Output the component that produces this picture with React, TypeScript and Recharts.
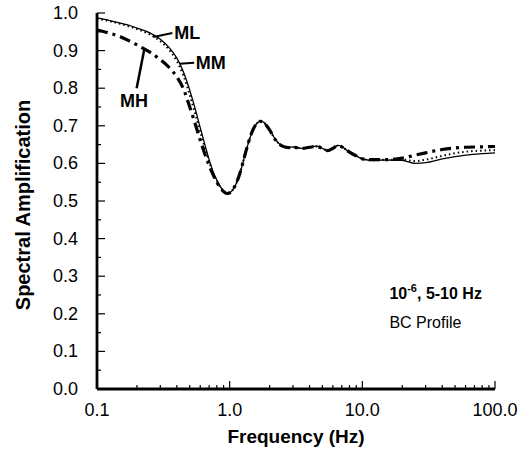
import React from 'react';
import { LineChart, Line, XAxis, YAxis, ReferenceLine, ReferenceDot, Label } from 'recharts';

// ---- data ----
const freq = [0.1, 0.125, 0.15, 0.175, 0.2, 0.25, 0.3, 0.35, 0.4, 0.45, 0.5, 0.55, 0.6, 0.65, 0.7, 0.75, 0.8, 0.85, 0.9, 0.95, 1.0, 1.1, 1.2, 1.3, 1.4, 1.5, 1.6, 1.7, 1.8, 1.9, 2.0, 2.2, 2.5, 2.8, 3.0, 3.5, 4.0, 4.5, 5.0, 5.5, 6.0, 6.5, 7.0, 7.5, 8, 9, 10, 12, 15, 20, 25, 30, 40, 50, 60, 80, 100];
const mlValues = [0.987, 0.980, 0.973, 0.967, 0.960, 0.947, 0.930, 0.908, 0.880, 0.842, 0.795, 0.745, 0.695, 0.650, 0.610, 0.578, 0.556, 0.538, 0.526, 0.520, 0.522, 0.540, 0.575, 0.620, 0.660, 0.690, 0.706, 0.712, 0.710, 0.700, 0.690, 0.665, 0.646, 0.642, 0.644, 0.640, 0.643, 0.646, 0.640, 0.634, 0.640, 0.648, 0.645, 0.637, 0.630, 0.620, 0.612, 0.608, 0.609, 0.608, 0.600, 0.602, 0.612, 0.618, 0.622, 0.626, 0.628];
const mmValues = [0.985, 0.978, 0.971, 0.964, 0.957, 0.943, 0.925, 0.902, 0.872, 0.832, 0.782, 0.732, 0.685, 0.642, 0.605, 0.574, 0.553, 0.537, 0.526, 0.520, 0.522, 0.541, 0.576, 0.621, 0.661, 0.690, 0.706, 0.712, 0.710, 0.700, 0.689, 0.664, 0.646, 0.642, 0.643, 0.640, 0.643, 0.645, 0.640, 0.634, 0.640, 0.647, 0.644, 0.637, 0.630, 0.620, 0.612, 0.608, 0.610, 0.610, 0.606, 0.610, 0.620, 0.627, 0.631, 0.634, 0.635];
const mhValues = [0.955, 0.946, 0.937, 0.926, 0.915, 0.896, 0.876, 0.855, 0.830, 0.797, 0.750, 0.705, 0.662, 0.625, 0.595, 0.570, 0.550, 0.535, 0.525, 0.520, 0.522, 0.541, 0.576, 0.621, 0.661, 0.690, 0.706, 0.712, 0.710, 0.700, 0.689, 0.664, 0.646, 0.642, 0.643, 0.640, 0.643, 0.645, 0.640, 0.634, 0.640, 0.647, 0.644, 0.637, 0.630, 0.620, 0.612, 0.610, 0.610, 0.614, 0.622, 0.628, 0.637, 0.641, 0.643, 0.644, 0.645];

const xMajorTicks = [0.1, 1, 10, 100];
const xMajorLabels = ['0.1', '1.0', '10.0', '100.0'];
const xMinorTicks = [0.2, 0.3, 0.4, 0.5, 0.6, 0.7, 0.8, 0.9, 2, 3, 4, 5, 6, 7, 8, 9, 20, 30, 40, 50, 60, 70, 80, 90];
const yMajorTicks = [0, 0.1, 0.2, 0.3, 0.4, 0.5, 0.6, 0.7, 0.8, 0.9, 1.0];
const yMajorLabels = ['0.0', '0.1', '0.2', '0.3', '0.4', '0.5', '0.6', '0.7', '0.8', '0.9', '1.0'];
const yMinorTicks = [0.05, 0.15, 0.25, 0.35, 0.45, 0.55, 0.65, 0.75, 0.85, 0.95];

// annotation anchors (data coordinates)
const mlLeader = [{ x: 0.266, y: 0.936 }, { x: 0.37, y: 0.947 }];
const mlLabel = { x: 0.383, y: 0.932, text: 'ML' };
const mmLeader = [{ x: 0.42, y: 0.865 }, { x: 0.54, y: 0.868 }];
const mmLabel = { x: 0.555, y: 0.852, text: 'MM' };
const mhLeader = [{ x: 0.228, y: 0.906 }, { x: 0.199, y: 0.80 }];
const mhLabel = { x: 0.19, y: 0.751, text: 'MH' };
const noteLine1 = { x: 16, y: 0.24 };
const noteLine2 = { x: 16, y: 0.163 };

const data = freq.map((f, i) => ({ f, ml: mlValues[i], mm: mmValues[i], mh: mhValues[i] }));
const allX = [...xMajorTicks, ...xMinorTicks].sort((a, b) => a - b);
const allY = [...yMajorTicks, ...yMinorTicks].sort((a, b) => a - b);

const FONT = '"Liberation Sans", Arial, Helvetica, sans-serif';

const isMajor = (arr: number[], v: number) => arr.some((m) => Math.abs(m - v) < 1e-9);

const BottomTick = (props: any) => {
  const { x, y, payload } = props;
  const idx = xMajorTicks.findIndex((m) => Math.abs(m - payload.value) < 1e-9);
  const major = idx >= 0;
  return (
    <g>
      <line x1={x} y1={y} x2={x} y2={y - (major ? 8 : 4)} stroke="#000" strokeWidth={1.2} />
      {major && (
        <text x={x} y={y + 27} textAnchor="middle" fontSize={18} fontFamily={FONT} fill="#000">
          {xMajorLabels[idx]}
        </text>
      )}
    </g>
  );
};
const TopTick = (props: any) => {
  const { x, y, payload } = props;
  const major = isMajor(xMajorTicks, payload.value);
  return <line x1={x} y1={y} x2={x} y2={y + (major ? 8 : 4)} stroke="#000" strokeWidth={1.2} />;
};
const LeftTick = (props: any) => {
  const { x, y, payload } = props;
  const idx = yMajorTicks.findIndex((m) => Math.abs(m - payload.value) < 1e-9);
  const major = idx >= 0;
  return (
    <g>
      <line x1={x} y1={y} x2={x + (major ? 8 : 4)} y2={y} stroke="#000" strokeWidth={1.2} />
      {major && (
        <text x={x - 19} y={y + 6} textAnchor="end" fontSize={18} fontFamily={FONT} fill="#000">
          {yMajorLabels[idx]}
        </text>
      )}
    </g>
  );
};
const RightTick = (props: any) => {
  const { x, y, payload } = props;
  const major = isMajor(yMajorTicks, payload.value);
  return <line x1={x} y1={y} x2={x - (major ? 8 : 4)} y2={y} stroke="#000" strokeWidth={1.2} />;
};

const textShape = (text: string, size: number, bold: boolean) => (p: any) => (
  <text x={p.cx} y={p.cy} fontSize={size} fontWeight={bold ? 'bold' : 'normal'} fontFamily={FONT} fill="#000">
    {text}
  </text>
);

const noteShape = (p: any) => (
  <text x={p.cx} y={p.cy} fontSize={16} fontWeight="bold" fontFamily={FONT} fill="#000">
    10<tspan dy={-7} fontSize={11}>-6</tspan>
    <tspan dy={7}>, 5-10 Hz</tspan>
  </text>
);

const axisLine = { stroke: '#000', strokeWidth: 2.8 };

export default function App() {
  return (
    <div style={{ position: 'absolute', left: 0, top: 0, background: '#fff' }}>
      <LineChart width={530} height={456} data={data} margin={{ top: 13, right: 35, bottom: 0, left: 0 }}>
        <XAxis
          xAxisId="b"
          dataKey="f"
          type="number"
          scale="log"
          domain={[0.1, 100]}
          allowDataOverflow
          ticks={allX}
          interval={0}
          tickSize={0}
          tickMargin={0}
          tick={<BottomTick />}
          axisLine={axisLine}
          tickLine={false}
          height={67}
        >
          <Label
            content={(p: any) => {
              const vb = p.viewBox;
              return (
                <text x={vb.x + vb.width / 2} y={vb.y + 54} textAnchor="middle" fontSize={19} fontWeight="bold" fontFamily={FONT} fill="#000">
                  Frequency (Hz)
                </text>
              );
            }}
          />
        </XAxis>
        <XAxis
          xAxisId="t"
          orientation="top"
          dataKey="f"
          type="number"
          scale="log"
          domain={[0.1, 100]}
          allowDataOverflow
          ticks={allX}
          interval={0}
          tickSize={0}
          tickMargin={0}
          tick={<TopTick />}
          axisLine={axisLine}
          tickLine={false}
          height={0}
        />
        <YAxis
          yAxisId="l"
          type="number"
          domain={[0, 1]}
          allowDataOverflow
          ticks={allY}
          interval={0}
          tickSize={0}
          tickMargin={0}
          tick={<LeftTick />}
          axisLine={axisLine}
          tickLine={false}
          width={97}
        >
          <Label
            content={(p: any) => {
              const vb = p.viewBox;
              const cx = vb.x + 23;
              const cy = vb.y + vb.height / 2 + 4;
              return (
                <text x={cx} y={cy} transform={`rotate(-90, ${cx}, ${cy})`} textAnchor="middle" dominantBaseline="central" fontSize={20} fontWeight="bold" fontFamily={FONT} fill="#000">
                  Spectral Amplification
                </text>
              );
            }}
          />
        </YAxis>
        <YAxis
          yAxisId="r"
          orientation="right"
          type="number"
          domain={[0, 1]}
          allowDataOverflow
          ticks={allY}
          interval={0}
          tickSize={0}
          tickMargin={0}
          tick={<RightTick />}
          axisLine={axisLine}
          tickLine={false}
          width={0}
        />
        <Line xAxisId="b" yAxisId="l" dataKey="ml" type="monotone" stroke="#000" strokeWidth={1.3} dot={false} isAnimationActive={false} />
        <Line xAxisId="b" yAxisId="l" dataKey="mm" type="monotone" stroke="#000" strokeWidth={2} strokeDasharray="1.5 3" dot={false} isAnimationActive={false} />
        <Line xAxisId="b" yAxisId="l" dataKey="mh" type="monotone" stroke="#000" strokeWidth={3.2} strokeDasharray="11 5 3 5" dot={false} isAnimationActive={false} />

        <ReferenceLine xAxisId="b" yAxisId="l" segment={mlLeader} stroke="#000" strokeWidth={2} ifOverflow="visible" />
        <ReferenceLine xAxisId="b" yAxisId="l" segment={mmLeader} stroke="#000" strokeWidth={2} ifOverflow="visible" />
        <ReferenceLine xAxisId="b" yAxisId="l" segment={mhLeader} stroke="#000" strokeWidth={2.5} ifOverflow="visible" />
        <ReferenceDot xAxisId="b" yAxisId="l" x={mlLabel.x} y={mlLabel.y} r={0} ifOverflow="visible" shape={textShape(mlLabel.text, 18, true)} />
        <ReferenceDot xAxisId="b" yAxisId="l" x={mmLabel.x} y={mmLabel.y} r={0} ifOverflow="visible" shape={textShape(mmLabel.text, 18, true)} />
        <ReferenceDot xAxisId="b" yAxisId="l" x={mhLabel.x} y={mhLabel.y} r={0} ifOverflow="visible" shape={(p: any) => (
          <text x={p.cx} y={p.cy} textAnchor="middle" fontSize={18} fontWeight="bold" fontFamily={FONT} fill="#000">{mhLabel.text}</text>
        )} />
        <ReferenceDot xAxisId="b" yAxisId="l" x={noteLine1.x} y={noteLine1.y} r={0} ifOverflow="visible" shape={noteShape} />
        <ReferenceDot xAxisId="b" yAxisId="l" x={noteLine2.x} y={noteLine2.y} r={0} ifOverflow="visible" shape={textShape('BC Profile', 16, false)} />
      </LineChart>
    </div>
  );
}
